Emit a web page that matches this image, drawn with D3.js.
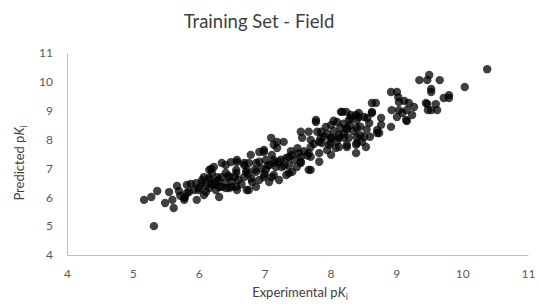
<!DOCTYPE html>
<html>
<head>
<meta charset="utf-8">
<script src="https://cdn.jsdelivr.net/npm/d3@7"></script>
<style>
  body { margin: 0; background: #fff; }
  svg text { font-family: Lato, "Open Sans", sans-serif; }
</style>
</head>
<body>
<div id="chart"></div>
<script>
// experimental pKi values (x)
var experimental = [
  5.17, 5.28, 5.37, 5.49, 5.60, 5.62, 5.55, 5.67, 5.82, 5.88, 5.79, 5.78, 5.85, 5.93, 5.96, 5.32, 5.70, 5.72,
  6.05, 6.11, 6.16, 6.19, 6.20, 6.31, 6.35, 6.41, 6.49, 6.58, 6.69, 6.72, 6.31, 6.41, 6.50, 6.58, 6.73, 6.08,
  6.26, 6.46, 6.57, 6.00, 5.97, 5.78, 5.82,
  6.08, 6.00, 6.16, 6.23, 6.26, 6.35, 6.46, 6.57, 6.87, 6.81, 6.92, 6.99, 7.07, 7.14, 6.16, 6.23, 6.35, 6.58,
  6.69, 6.79, 6.92, 6.99, 7.10, 7.14, 7.11, 7.02, 6.87, 6.73, 6.57, 6.41, 6.28, 6.16, 6.05, 6.69, 6.87, 7.02,
  7.19, 7.29, 6.99, 7.19, 7.55, 7.57, 7.78, 7.86, 8.01, 8.18, 8.31, 8.43, 8.56, 8.69, 8.63, 8.71, 8.54, 8.39,
  8.28, 8.13, 8.01, 7.87, 7.70, 7.52, 7.37, 7.22, 7.07, 6.92, 6.76, 6.76, 7.22, 7.37, 7.49, 7.67, 7.55, 7.83,
  8.01, 8.13, 8.25, 8.40, 7.67,
  7.78, 7.70, 7.83, 7.93, 8.10, 8.16, 8.28, 8.39, 8.40, 8.25, 8.13, 8.02, 8.25, 8.39, 8.08, 7.95, 7.83, 7.70,
  7.55, 7.42, 7.33, 7.14, 7.55, 7.70, 7.37, 7.26, 7.17, 7.11, 7.33, 7.42, 7.98, 8.21, 7.80, 7.67,
  8.92, 9.01, 9.04, 9.12, 8.93, 9.04, 9.16, 9.27, 9.01, 9.15, 8.63, 8.63, 8.77, 8.51, 8.40, 8.31, 8.59, 8.77,
  8.92, 8.74, 8.51, 8.40, 8.25, 8.24, 9.35, 9.45, 9.53, 9.19, 9.09, 9.24, 9.03, 9.16, 8.71, 8.48, 8.43,
  9.50, 9.66, 9.47, 9.53, 9.53, 9.72, 9.80, 9.80, 9.47, 9.60, 9.48, 9.62, 10.04, 10.38,
  7.90, 8.00, 8.05, 8.15, 8.20, 7.95, 8.10, 8.30, 8.35, 8.20, 7.85, 7.75, 7.60, 7.50, 7.40, 7.45, 7.25, 7.30,
  7.05, 6.95, 6.85, 6.60, 6.50, 6.40, 6.30, 6.45, 6.55, 6.75, 6.80, 6.65, 6.20, 6.10, 8.45, 8.55, 8.60, 8.45,
  8.05, 7.65, 7.15, 7.00
];

// predicted pKi values (y)
var predicted = [
  5.91, 6.01, 6.22, 5.80, 5.91, 5.63, 6.18, 6.39, 6.43, 6.46, 6.01, 5.91, 6.18, 6.25, 6.49, 5.00, 6.22, 6.05,
  6.49, 6.18, 6.67, 6.98, 6.84, 6.01, 6.70, 7.12, 7.22, 7.22, 7.19, 6.88, 6.36, 6.32, 6.36, 6.25, 6.25, 6.70,
  6.53, 6.70, 6.84, 6.25, 5.91, 5.98, 6.15,
  6.08, 6.32, 6.32, 6.43, 6.25, 6.36, 6.32, 6.36, 6.36, 6.53, 6.60, 6.70, 6.53, 6.77, 6.95, 7.05, 7.19, 7.29,
  7.12, 7.47, 7.57, 7.64, 8.06, 7.82, 7.47, 7.29, 7.19, 6.95, 6.95, 6.84, 6.70, 6.60, 6.60, 6.70, 6.88, 6.95,
  7.92, 7.92, 7.57, 7.71, 8.27, 8.06, 8.61, 8.27, 8.51, 8.96, 8.85, 8.78, 8.75, 9.27, 8.92, 8.23, 7.74, 7.53,
  8.06, 8.06, 8.06, 7.88, 7.74, 7.53, 7.40, 7.23, 7.12, 7.23, 7.19, 6.25, 6.60, 6.84, 7.05, 6.95, 7.23, 7.23,
  7.47, 7.74, 7.81, 8.09, 7.53,
  8.68, 7.99, 7.92, 8.44, 8.61, 8.96, 8.68, 8.85, 8.40, 8.34, 8.16, 8.06, 7.74, 7.82, 7.71, 7.64, 7.53, 7.40,
  7.40, 7.47, 7.36, 7.29, 7.19, 6.95, 7.12, 7.05, 7.05, 6.70, 6.77, 6.88, 7.82, 8.06, 8.27, 8.27,
  9.65, 9.65, 9.30, 9.34, 9.02, 9.02, 9.02, 9.13, 8.78, 8.68, 9.27, 8.96, 8.75, 8.78, 8.68, 8.75, 8.57, 8.51,
  8.44, 8.23, 8.09, 7.88, 8.40, 8.96, 10.06, 9.27, 9.02, 9.27, 8.92, 8.85, 9.47, 8.64, 8.33, 7.92, 8.92,
  10.24, 10.06, 10.06, 9.75, 9.65, 9.44, 9.54, 9.44, 9.23, 9.23, 9.02, 9.02, 9.82, 10.44,
  8.10, 7.90, 8.30, 8.40, 8.20, 8.20, 7.95, 8.50, 8.30, 8.55, 8.05, 7.85, 7.60, 7.70, 7.60, 7.30, 7.30, 7.10,
  7.10, 7.00, 6.95, 6.60, 6.55, 6.50, 6.60, 6.75, 6.70, 6.80, 6.65, 6.45, 6.45, 6.40, 8.45, 8.35, 8.10, 8.15,
  8.65, 7.45, 7.20, 6.80
];

var axisTicks = [4, 5, 6, 7, 8, 9, 10, 11];

var width = 538, height = 306;
var margin = {top: 53, right: 10, bottom: 51, left: 67};

var svg = d3.select("#chart").append("svg")
    .attr("width", width)
    .attr("height", height);

var x = d3.scaleLinear().domain([4, 11]).range([margin.left, width - margin.right]);
var y = d3.scaleLinear().domain([4, 11]).range([height - margin.bottom, margin.top]);

// title
svg.append("text")
    .attr("x", 259)
    .attr("y", 28)
    .attr("text-anchor", "middle")
    .style("font-size", "18.5px")
    .style("fill", "#404040")
    .text("Training Set - Field");

// axes
var xAxis = svg.append("g")
    .attr("transform", "translate(0," + y(4) + ")")
    .call(d3.axisBottom(x).tickValues(axisTicks).tickSize(0).tickPadding(14).tickFormat(d3.format("d")));

var yAxis = svg.append("g")
    .attr("transform", "translate(" + x(4) + ",0)")
    .call(d3.axisLeft(y).tickValues(axisTicks).tickSize(0).tickPadding(14).tickFormat(d3.format("d")));

svg.selectAll(".domain").attr("stroke", "#bfbfbf");
svg.selectAll(".tick text")
    .style("font-size", "12px")
    .style("fill", "#595959")
    .style("font-family", "Lato, sans-serif");

// axis titles
var xTitle = svg.append("text")
    .attr("x", 300)
    .attr("y", 297)
    .attr("text-anchor", "middle")
    .style("font-size", "13px")
    .style("fill", "#404040");
xTitle.append("tspan").text("Experimental p");
xTitle.append("tspan").style("font-style", "italic").text("K");
xTitle.append("tspan").attr("dy", 3).style("font-size", "9px").text("i");

var yTitle = svg.append("text")
    .attr("transform", "translate(24,163)rotate(-90)")
    .attr("text-anchor", "middle")
    .style("font-size", "13px")
    .style("fill", "#404040");
yTitle.append("tspan").text("Predicted p");
yTitle.append("tspan").style("font-style", "italic").text("K");
yTitle.append("tspan").attr("dy", 3).style("font-size", "9px").text("i");

// points
svg.append("g")
  .selectAll("circle")
  .data(d3.range(experimental.length))
  .enter().append("circle")
    .attr("cx", function(i) { return x(experimental[i]); })
    .attr("cy", function(i) { return y(predicted[i]); })
    .attr("r", 4.2)
    .style("fill", "#000")
    .style("fill-opacity", 0.75);
</script>
</body>
</html>
